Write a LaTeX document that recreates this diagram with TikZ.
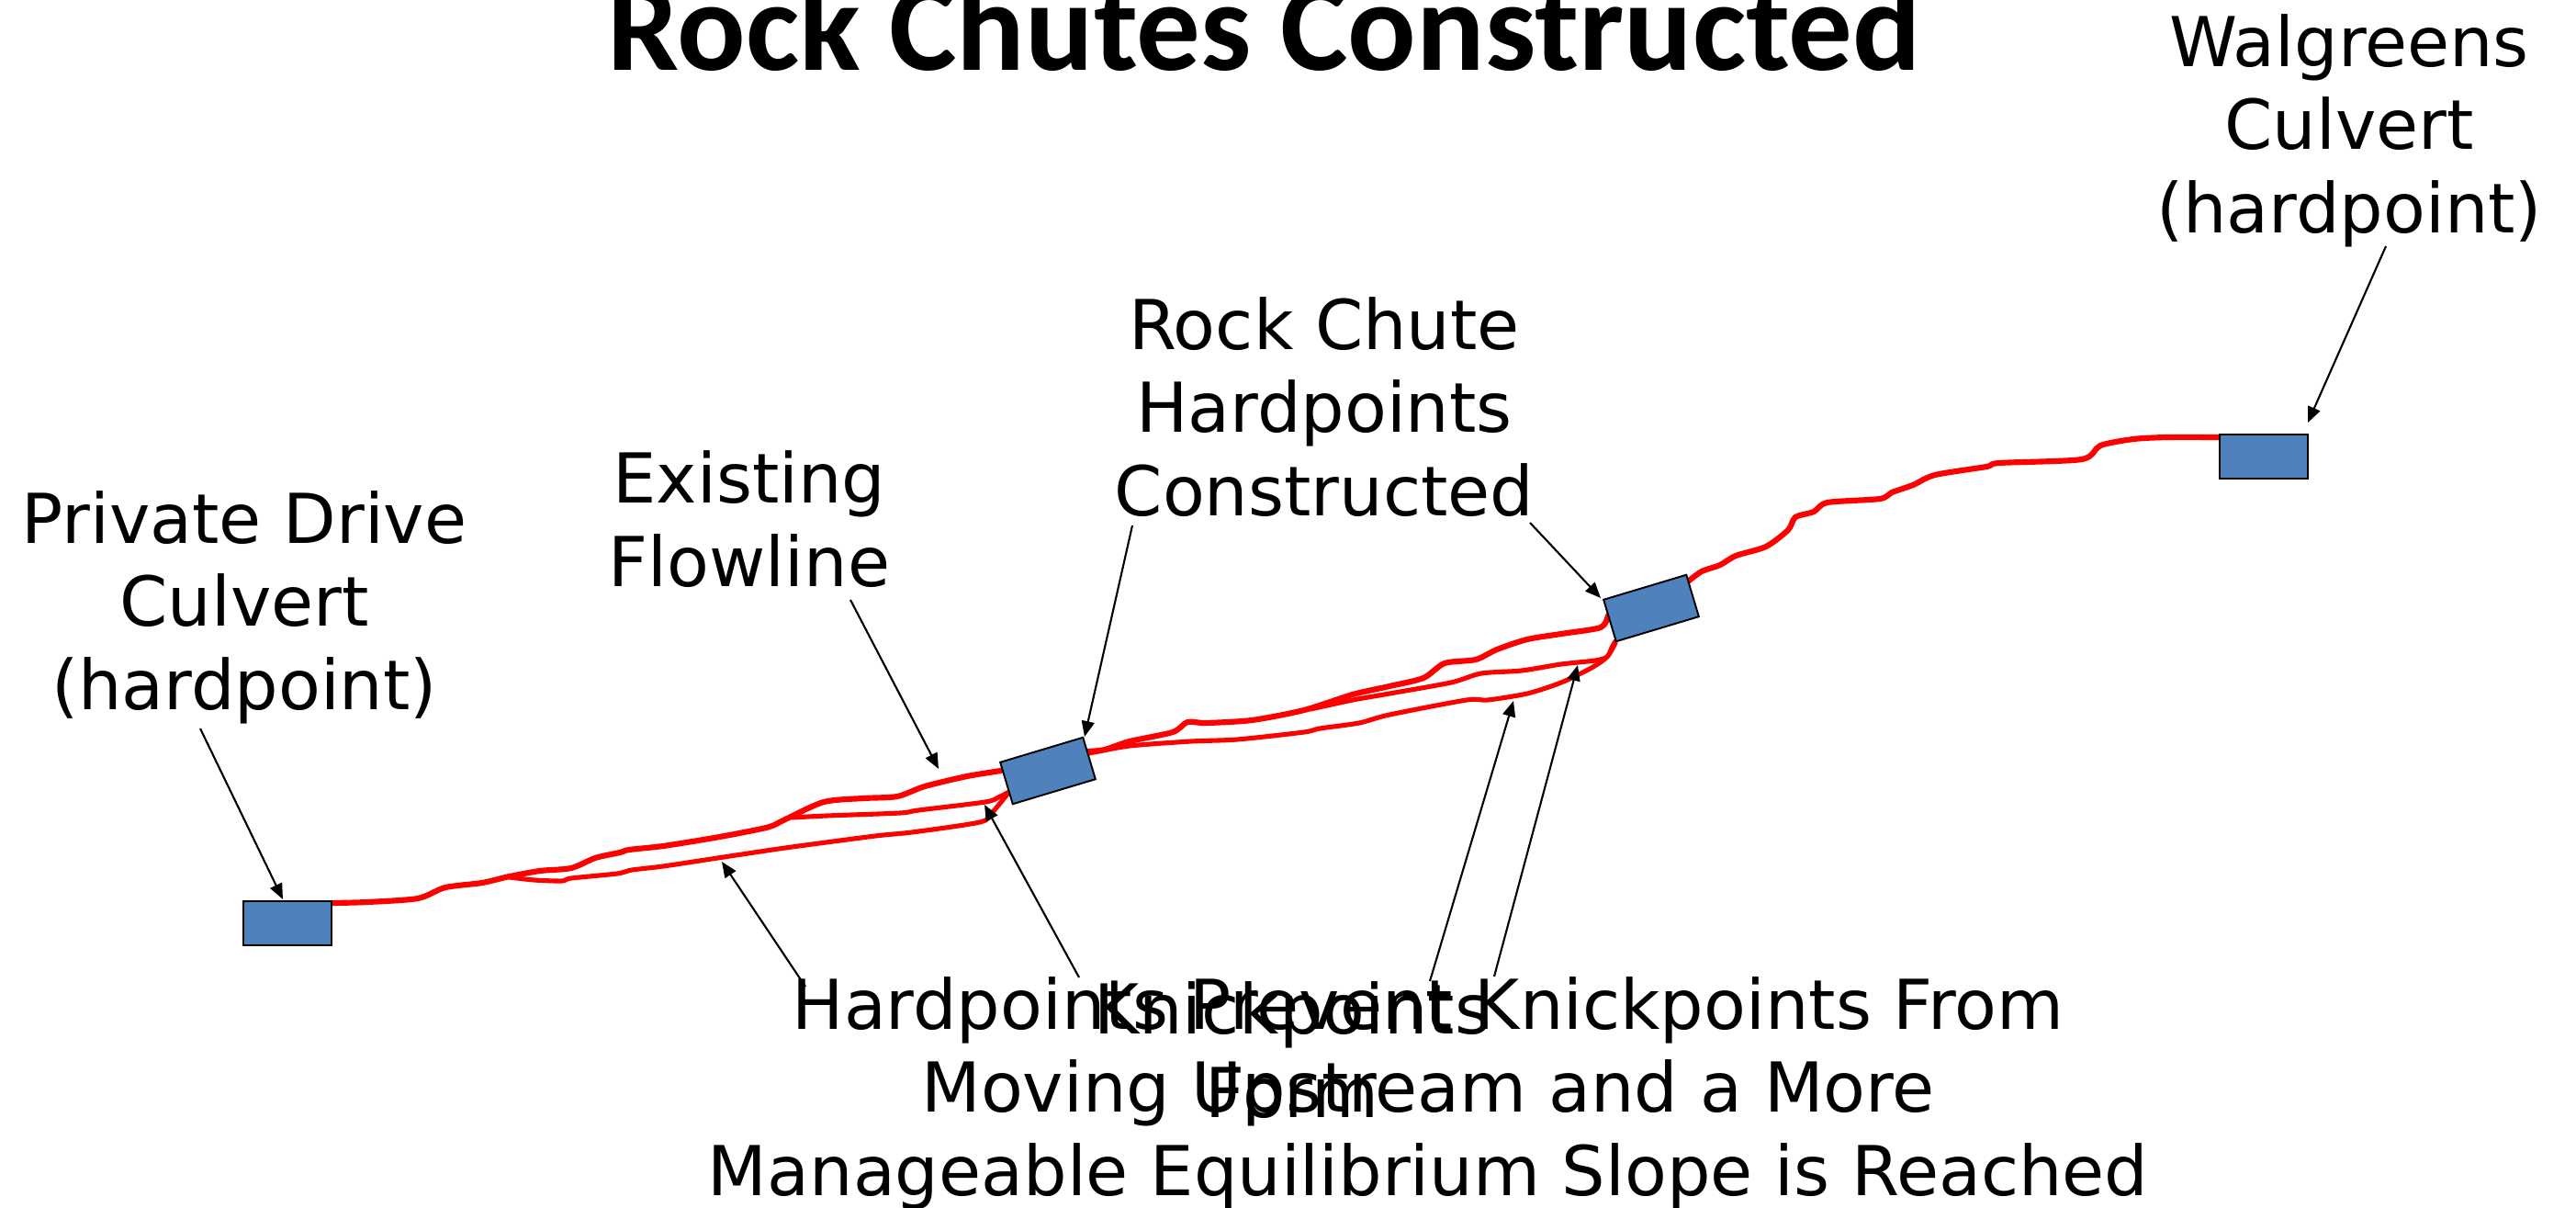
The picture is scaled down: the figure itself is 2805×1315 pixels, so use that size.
\documentclass[tikz,border=0pt]{standalone}
\usepackage{fontspec}
\setmainfont{DejaVu Sans}
\newfontfamily\titlefont{Carlito}
\usetikzlibrary{arrows.meta}
\begin{document}
\begin{tikzpicture}[x=0.01cm,y=-0.01cm,
  lab/.style={align=center,inner sep=0pt,anchor=base,font=\fontsize{21.3}{25.6}\selectfont},
  culv/.style={draw=black,line width=0.7pt,fill=boxblue,inner sep=0pt},
  redA/.style={draw=red,line width=1.75pt,line cap=round,line join=round},
  redB/.style={draw=red,line width=1.45pt,line cap=round,line join=round},
  arr/.style={draw=black,line width=0.6pt,-{Triangle[length=0.17cm,width=0.14cm]}}]
\definecolor{boxblue}{HTML}{4F81BD}
\useasboundingbox (0,0) rectangle (2805,1315);
\fill[white] (0,0) rectangle (2805,1315);
% title
\node[anchor=base,inner sep=0pt,font=\titlefont\bfseries\fontsize{39.5}{44}\selectfont] (title) at (1377,77) {Rock Chutes Constructed};
% red profile lines
\draw[redA] plot[smooth,tension=0.45] coordinates{(361,983) (400,982) (455,978) (485,966) (525,961) (555,954) (588,948) (622,945) (648,934) (675,928) (685,925) (722,921) (772,913) (805,907) (838,900) (855,892) (897,873) (940,869) (977,867) (1007,856) (1053,845) (1090,839)};
\draw[redB] plot[smooth,tension=0.45] coordinates{(555,955) (582,958) (612,959) (622,956) (672,951) (688,947) (722,943) (788,933) (855,923) (953,910) (993,906) (1067,895) (1080,885) (1099,862)};
\draw[redB] plot[smooth,tension=0.45] coordinates{(863,890) (900,888) (980,885) (1000,882) (1073,873) (1087,868) (1099,862)};
\draw[redA] plot[smooth,tension=0.45] coordinates{(1185,818) (1203,816) (1230,807) (1277,797) (1293,786) (1313,787) (1363,784) (1420,773) (1473,756) (1513,747) (1550,738) (1573,722) (1607,718) (1630,707) (1663,696) (1700,690) (1743,683) (1751,670)};
\draw[redB] plot[smooth,tension=0.45] coordinates{(1427,772) (1473,762) (1513,755) (1580,743) (1613,733) (1657,730) (1700,723) (1737,719) (1750,715) (1755,705) (1759,698)};
\draw[redB] plot[smooth,tension=0.45] coordinates{(1186,820) (1230,812) (1297,807) (1347,805) (1420,797) (1437,793) (1480,787) (1513,778) (1597,762) (1620,762) (1663,755) (1700,743) (1733,727) (1750,715) (1759,700)};
\draw[redA] plot[smooth,tension=0.45] coordinates{(1838,633) (1853,622) (1873,615) (1890,605) (1923,595) (1947,577) (1955,563) (1975,557) (1990,547) (2047,543) (2060,536) (2083,528) (2107,517) (2163,508) (2177,504) (2267,500) (2287,485) (2323,478) (2360,476) (2417,476)};
% culverts / hardpoints
\node[culv,minimum width=0.96cm,minimum height=0.48cm] (pdc) at (313,1005) {};
\node[culv,minimum width=0.96cm,minimum height=0.48cm] (wgc) at (2465,497) {};
\node[culv,minimum width=0.94cm,minimum height=0.474cm,rotate=16.7,line width=0.55pt] (rc1) at (1141,839) {};
\node[culv,minimum width=0.94cm,minimum height=0.474cm,rotate=16.7,line width=0.55pt] (rc2) at (1798,662) {};
% labels (base anchor = baseline of last line)
\node[lab] (lpdc) at (266,772) {Private Drive\\Culvert\\(hardpoint)};
\node[lab] (lef) at (816,638) {Existing\\Flowline};
\node[lab] (lrc) at (1442,561) {Rock Chute\\Hardpoints\\Constructed};
\node[lab] (lwg) at (2558,253) {Walgreens\\Culvert\\(hardpoint)};
\node[lab] (lhp) at (1555,1301) {Hardpoints Prevent Knickpoints From\\Moving Upstream and a More\\Manageable Equilibrium Slope is Reached};
\node[lab] (lkf) at (1407,1216) {Knickpoints\\Form};
% arrow ends
\coordinate (s1) at (218,793);   \coordinate (t1) at (308,979);
\coordinate (s2) at (926,653);   \coordinate (t2) at (1022,837);
\coordinate (s3) at (1233,572);  \coordinate (t3) at (1181,802);
\coordinate (s4) at (1666,569);  \coordinate (t4) at (1743,651);
\coordinate (s5) at (2598,268);  \coordinate (t5) at (2513,460);
\coordinate (s6) at (877,1074);  \coordinate (t6) at (786,938);
\coordinate (s7) at (1175,1064); \coordinate (t7) at (1072,876);
\coordinate (s8) at (1557,1068); \coordinate (t8) at (1648,763);
\coordinate (s9) at (1627,1063); \coordinate (t9) at (1718,724);
\draw[arr] (s1) -- (t1);
\draw[arr] (s2) -- (t2);
\draw[arr] (s3) -- (t3);
\draw[arr] (s4) -- (t4);
\draw[arr] (s5) -- (t5);
\draw[arr] (s6) -- (t6);
\draw[arr] (s7) -- (t7);
\draw[arr] (s8) -- (t8);
\draw[arr] (s9) -- (t9);
\end{tikzpicture}
\end{document}
